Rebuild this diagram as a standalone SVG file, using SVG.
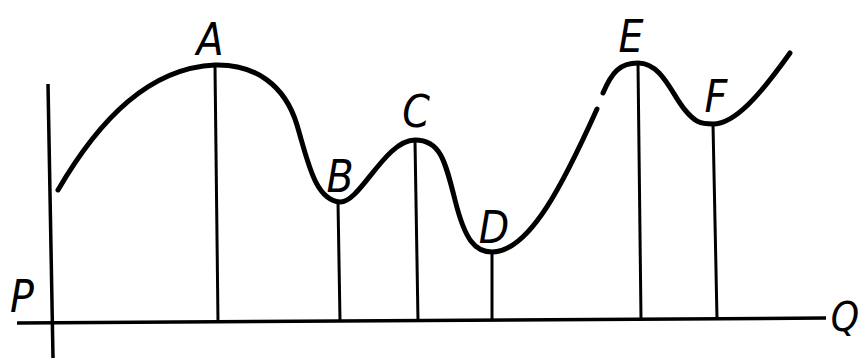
<svg xmlns="http://www.w3.org/2000/svg" width="864" height="360" viewBox="0 0 864 360">
<style>
.curve{fill:none;stroke:#000;stroke-width:5;stroke-linecap:round;stroke-linejoin:round}
.ord{fill:none;stroke:#000;stroke-width:3}
.axis{fill:none;stroke:#000;stroke-width:3.5}
.lbl{font-family:"DejaVu Sans Condensed","DejaVu Sans",sans-serif;font-stretch:condensed;font-style:oblique;font-size:44px;fill:#000;text-anchor:middle}
</style>
<rect width="864" height="360" fill="#fff"/>
<g id="axes">
<path class="axis" d="M48,84 L53,358"/>
<path class="axis" d="M17,323 L826,318"/>
</g>
<g id="connectors">
<path class="ord" d="M215,66 L218,322"/>
<path class="ord" d="M338,202 L340,321"/>
<path class="ord" d="M415,141 L418,321"/>
<path class="ord" d="M492,252 L492,320"/>
<path class="ord" d="M638,64 L641,319"/>
<path class="ord" d="M713,124 L717,319"/>
</g>
<g id="curve">
<path class="curve" d="M58,190 C100,118 150,68 215,65 C255,64 285,85 297,125 C308,162 315,200 340,202 C360,203 385,140 415,140 C440,140 445,160 455,200 C465,240 475,252 492,252 C530,252 565,180 597,109"/>
<path class="curve" d="M603,93 C612,72 620,63 638,63 C662,63 672,95 685,110 C695,122 700,124 713,124 C735,124 760,95 790,53"/>
</g>
<g id="labels">
<text class="lbl" x="210" y="55">A</text>
<text class="lbl" x="340" y="192">B</text>
<text class="lbl" x="416" y="127">C</text>
<text class="lbl" x="494" y="243">D</text>
<text class="lbl" x="631" y="52">E</text>
<text class="lbl" x="716" y="112">F</text>
<text class="lbl" x="22" y="312">P</text>
<text class="lbl" x="845" y="331" style="font-size:40px">Q</text>
</g>
</svg>
